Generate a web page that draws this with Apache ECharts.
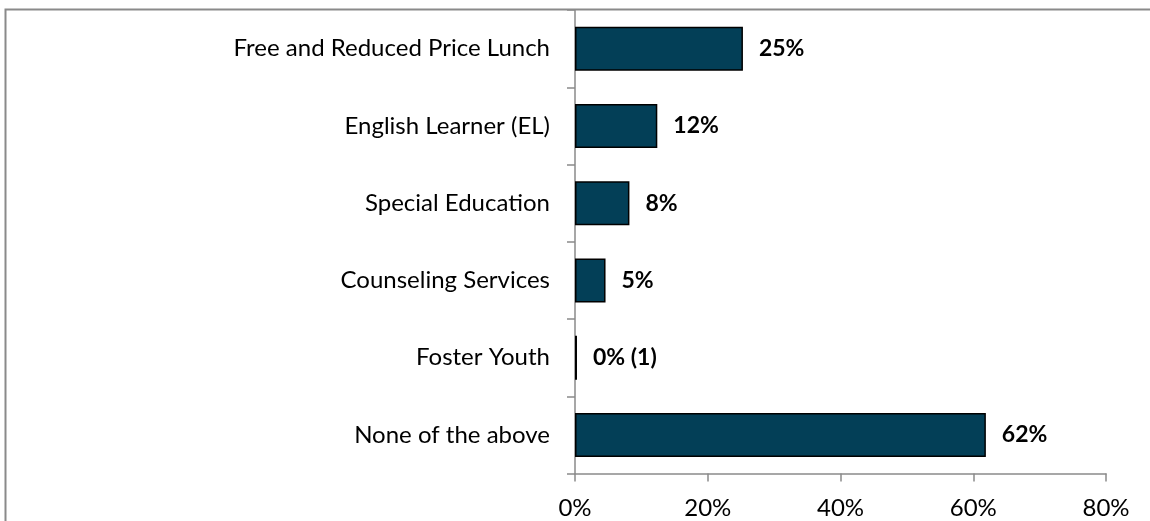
<!DOCTYPE html>
<html>
<head>
<meta charset="utf-8">
<script src="https://cdn.jsdelivr.net/npm/echarts@6/dist/echarts.min.js"></script>
<style>
  html, body { margin: 0; padding: 0; background: #fff; }
  #chart { width: 1150px; height: 521px; }
</style>
</head>
<body>
<div id="chart"></div>
<script>
// categories top to bottom, as in the picture
const categories = [
  "Free and Reduced Price Lunch",
  "English Learner (EL)",
  "Special Education",
  "Counseling Services",
  "Foster Youth",
  "None of the above"
];
const values = [25.3, 12.4, 8.2, 4.6, 0.3, 61.9];
const valueLabels = ["25%", "12%", "8%", "5%", "0% (1)", "62%"];
const xTicks = { min: 0, max: 80, interval: 20 };

const font = "Lato, 'Open Sans', sans-serif";

const chart = echarts.init(document.getElementById("chart"), null, { renderer: "canvas" });

chart.setOption({
  backgroundColor: "#fff",
  animation: false,
  graphic: [
    {
      type: "rect",
      silent: true,
      shape: { x: 5.5, y: 9.5, width: 1200, height: 600 },
      style: { fill: "none", stroke: "#8a8a8a", lineWidth: 2 }
    }
  ],
  grid: {
    left: 575,
    right: 44,
    top: 10,
    bottom: 47.5,
    containLabel: false
  },
  xAxis: {
    type: "value",
    min: xTicks.min,
    max: xTicks.max,
    interval: xTicks.interval,
    splitLine: { show: false },
    axisLine: { show: true, lineStyle: { color: "#8a8a8a", width: 1.5 } },
    axisTick: { show: true, length: 8, lineStyle: { color: "#8a8a8a", width: 1.5 } },
    axisLabel: {
      formatter: "{value}%",
      color: "#000",
      fontFamily: font,
      fontSize: 24,
      margin: 23
    }
  },
  yAxis: {
    type: "category",
    data: categories,
    inverse: true,
    axisLine: { show: true, lineStyle: { color: "#8a8a8a", width: 1.5 } },
    axisTick: { show: true, length: 8, lineStyle: { color: "#8a8a8a", width: 1.5 } },
    axisLabel: {
      color: "#000",
      fontFamily: font,
      fontSize: 24,
      margin: 25
    }
  },
  series: [
    {
      type: "bar",
      data: values,
      barWidth: 44,
      itemStyle: {
        color: "#033f57",
        borderColor: "#000",
        borderWidth: 1.5
      },
      label: {
        show: true,
        position: "right",
        distance: 16,
        color: "#000",
        fontFamily: font,
        fontWeight: "bold",
        fontSize: 23,
        formatter: (p) => valueLabels[p.dataIndex]
      }
    }
  ]
});
</script>
</body>
</html>
